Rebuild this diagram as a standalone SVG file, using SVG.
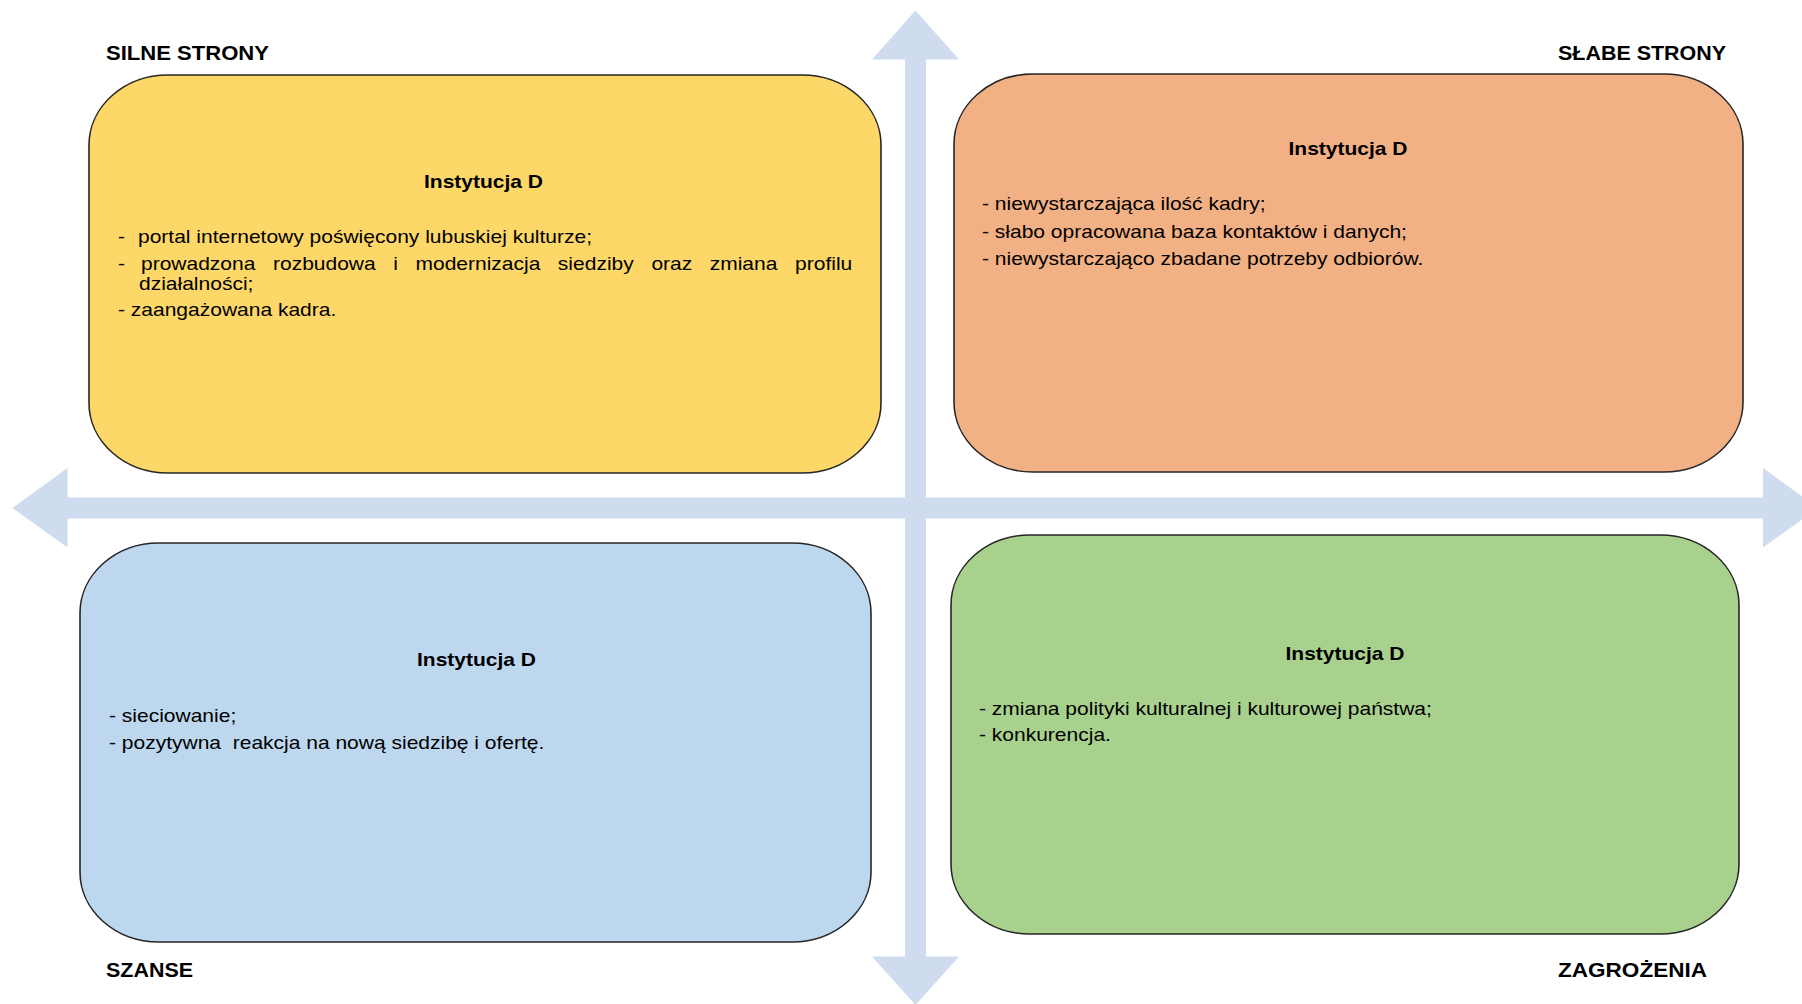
<svg xmlns="http://www.w3.org/2000/svg" width="1802" height="1004" viewBox="0 0 1802 1004">
<style>
.arrow{fill:#CFDBEE;stroke:none}
.box{stroke:#262626;stroke-width:1.6}
.t{font-family:"Liberation Sans",Arial,sans-serif;font-weight:bold;font-size:21px;fill:#000}
.h{font-family:"Liberation Sans",Arial,sans-serif;font-weight:bold;font-size:18.6px;fill:#000}
.b{font-family:"Liberation Sans",Arial,sans-serif;font-size:18.6px;fill:#000}
</style>
<rect width="1802" height="1004" fill="#FFFFFF"/>
<g id="connectors">
  <rect class="arrow" x="905" y="58" width="21" height="900"/>
  <polygon class="arrow" points="872,59.5 915.5,10.5 959,59.5"/>
  <polygon class="arrow" points="872,956.5 915.5,1005 959,956.5"/>
  <rect class="arrow" x="66" y="497.5" width="1698" height="21"/>
  <polygon class="arrow" points="67.5,468 12.5,508 67.5,547.5"/>
  <polygon class="arrow" points="1763,468 1818,508 1763,547.5"/>
</g>
<g id="label-silne"><text class="t" x="106" y="60" textLength="163" lengthAdjust="spacingAndGlyphs">SILNE STRONY</text></g>
<g id="label-slabe"><text class="t" x="1558" y="60" textLength="168" lengthAdjust="spacingAndGlyphs">SŁABE STRONY</text></g>
<g id="label-szanse"><text class="t" x="106" y="977" textLength="87" lengthAdjust="spacingAndGlyphs">SZANSE</text></g>
<g id="label-zagrozenia"><text class="t" x="1558" y="977" textLength="149" lengthAdjust="spacingAndGlyphs">ZAGROŻENIA</text></g>
<g id="node-strengths">
  <rect class="box" x="89" y="75" width="792" height="398" rx="79" ry="70" fill="#FDD767"/>
  <text class="h" transform="translate(483.5 188) scale(1.13 1)" text-anchor="middle">Instytucja D</text>
  <text class="b" transform="translate(118 242.5) scale(1.13 1)">-</text>
  <text class="b" transform="translate(138 242.5) scale(1.13 1)">portal internetowy poświęcony lubuskiej kulturze;</text>
  <text class="b" transform="translate(118 270) scale(1.13 1)">-</text>
  <text class="b" transform="translate(141 270) scale(1.13 1)"><tspan x="0">prowadzona</tspan><tspan x="116.8">rozbudowa</tspan><tspan x="223.2">i</tspan><tspan x="242.9">modernizacja</tspan><tspan x="368.9">siedziby</tspan><tspan x="451.7">oraz</tspan><tspan x="503.3">zmiana</tspan><tspan x="578.8">profilu</tspan></text>
  <text class="b" transform="translate(139 289.5) scale(1.13 1)">działalności;</text>
  <text class="b" transform="translate(118 316) scale(1.13 1)">- zaangażowana kadra.</text>
</g>
<g id="node-weaknesses">
  <rect class="box" x="954" y="74" width="789" height="398" rx="79" ry="70" fill="#F2B085"/>
  <text class="h" transform="translate(1348 155) scale(1.13 1)" text-anchor="middle">Instytucja D</text>
  <text class="b" transform="translate(982 210) scale(1.13 1)">- niewystarczająca ilość kadry;</text>
  <text class="b" transform="translate(982 237.5) scale(1.13 1)">- słabo opracowana baza kontaktów i danych;</text>
  <text class="b" transform="translate(982 264.5) scale(1.13 1)">- niewystarczająco zbadane potrzeby odbiorów.</text>
</g>
<g id="node-opportunities">
  <rect class="box" x="80" y="543" width="791" height="399" rx="79" ry="70" fill="#BDD7EE"/>
  <text class="h" transform="translate(476.5 666) scale(1.13 1)" text-anchor="middle">Instytucja D</text>
  <text class="b" transform="translate(109 721.5) scale(1.13 1)">- sieciowanie;</text>
  <text class="b" transform="translate(109 749) scale(1.13 1)" xml:space="preserve">- pozytywna  reakcja na nową siedzibę i ofertę.</text>
</g>
<g id="node-threats">
  <rect class="box" x="951" y="535" width="788" height="399" rx="79" ry="70" fill="#A9D18E"/>
  <text class="h" transform="translate(1345 659.5) scale(1.13 1)" text-anchor="middle">Instytucja D</text>
  <text class="b" transform="translate(979 715) scale(1.13 1)">- zmiana polityki kulturalnej i kulturowej państwa;</text>
  <text class="b" transform="translate(979 741) scale(1.13 1)">- konkurencja.</text>
</g>
</svg>
